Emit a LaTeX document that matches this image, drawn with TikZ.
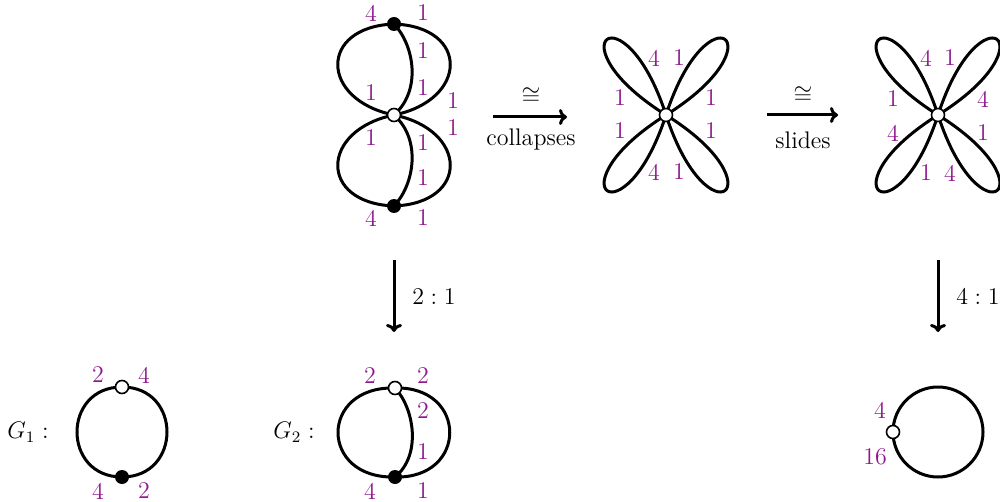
\documentclass[tikz,border=0pt]{standalone}
\usetikzlibrary{arrows.meta}
\definecolor{labc}{RGB}{142,24,142}
\begin{document}
\begin{tikzpicture}[x=0.5pt,y=-0.5pt, font=\fontsize{12}{14}\selectfont,
  edge/.style={line width=1.5pt},
  wv/.style={circle,draw,fill=white,line width=0.8pt,inner sep=0pt,minimum size=6.5pt},
  bv/.style={circle,fill=black,inner sep=0pt,minimum size=7pt},
  lab/.style={text=labc,inner sep=0pt},
  txt/.style={inner sep=0pt},
  arr/.style={line width=1.5pt,-{To[length=4pt,width=8pt]}},
  petal/.style={edge}]
\useasboundingbox (0,0) rectangle (1000,502);
\clip (0,0) rectangle (1000,502);

% ---------- figure eight ----------
\coordinate (T) at (394,24);
\coordinate (M) at (394,115);
\coordinate (B) at (394,206);
\draw[edge] (T) .. controls (318,27) and (320,100) .. (M);
\draw[edge] (T) .. controls (414,45) and (422,90) .. (M);
\draw[edge] (T) .. controls (470,27) and (468,100) .. (M);
\draw[edge] (M) .. controls (320,130) and (318,203) .. (B);
\draw[edge] (M) .. controls (422,140) and (414,185) .. (B);
\draw[edge] (M) .. controls (468,130) and (470,203) .. (B);
\node[bv] (Tv) at (T) {};
\node[wv] (Mv) at (M) {};
\node[bv] (Bv) at (B) {};
\node[lab] (e1) at (371,13) {4};
\node[lab] (e2) at (423,13) {1};
\node[lab] (e3) at (423,51) {1};
\node[lab] (e4) at (423,88) {1};
\node[lab] (e5) at (371,93) {1};
\node[lab] (e6) at (453,101) {1};
\node[lab] (e7) at (453,128) {1};
\node[lab] (e8) at (371,138) {1};
\node[lab] (e9) at (423,143) {1};
\node[lab] (e10) at (423,178) {1};
\node[lab] (e11) at (371,218) {4};
\node[lab] (e12) at (423,218) {1};

% ---------- arrow collapses ----------
\coordinate (a1s) at (493,117);
\coordinate (a1e) at (567,117);
\draw[arr] (a1s) -- (a1e);
\node[txt] (c1) at (531,96) {$\cong$};
\node[txt] (c2) at (531,140) {collapses};

% ---------- flower 1 ----------
\coordinate (F1) at (666,115);
\foreach \a in {232,308,128,52}
  \draw[petal] (F1) .. controls +(\a-20:136) and +(\a+20:136) .. (F1);
\node[wv] (F1v) at (F1) {};
\node[lab] (f1) at (654,58) {4};
\node[lab] (f2) at (679,58) {1};
\node[lab] (f3) at (620,98) {1};
\node[lab] (f4) at (711,98) {1};
\node[lab] (f5) at (620,131) {1};
\node[lab] (f6) at (711,131) {1};
\node[lab] (f7) at (654,172) {4};
\node[lab] (f8) at (679,172) {1};

% ---------- arrow slides ----------
\coordinate (a2s) at (767,115);
\coordinate (a2e) at (838,115);
\draw[arr] (a2s) -- (a2e);
\node[txt] (s1) at (803,95) {$\cong$};
\node[txt] (s2) at (803,140) {slides};

% ---------- flower 2 ----------
\coordinate (F2) at (938,115);
\foreach \a in {232,308,128,52}
  \draw[petal] (F2) .. controls +(\a-20:136) and +(\a+20:136) .. (F2);
\node[wv] (F2v) at (F2) {};
\node[lab] (g1) at (926,58) {4};
\node[lab] (g2) at (950,58) {1};
\node[lab] (g3) at (893,99) {1};
\node[lab] (g4) at (983,99) {4};
\node[lab] (g5) at (893,133) {4};
\node[lab] (g6) at (983,133) {1};
\node[lab] (g7) at (926,173) {1};
\node[lab] (g8) at (950,173) {4};

% ---------- down arrows ----------
\coordinate (d1s) at (394,260);
\coordinate (d1e) at (394,332);
\draw[arr] (d1s) -- (d1e);
\node[txt] (r1) at (434,297) {$2:1$};
\coordinate (d2s) at (938,260);
\coordinate (d2e) at (938,332);
\draw[arr] (d2s) -- (d2e);
\node[txt] (r2) at (978,297) {$4:1$};

% ---------- G1 ----------
\node[txt] (G1l) at (28,432) {$G_1:$};
\coordinate (W1) at (122,387);
\coordinate (K1) at (122,477);
\draw[edge] (W1) .. controls (62,387) and (62,477) .. (K1);
\draw[edge] (W1) .. controls (182,387) and (182,477) .. (K1);
\node[wv] (W1v) at (W1) {};
\node[bv] (K1v) at (K1) {};
\node[lab] (h1) at (98,375) {2};
\node[lab] (h2) at (144,375) {4};
\node[lab] (h3) at (98,491) {4};
\node[lab] (h4) at (144,491) {2};

% ---------- G2 ----------
\node[txt] (G2l) at (294,432) {$G_2:$};
\coordinate (W2) at (395,388);
\coordinate (K2) at (395,477);
\draw[edge] (W2) .. controls (319,386) and (319,479) .. (K2);
\draw[edge] (W2) .. controls (414,408) and (422,455) .. (K2);
\draw[edge] (W2) .. controls (468,386) and (468,479) .. (K2);
\node[wv] (W2v) at (W2) {};
\node[bv] (K2v) at (K2) {};
\node[lab] (i1) at (370,376) {2};
\node[lab] (i2) at (423,376) {2};
\node[lab] (i3) at (423,411) {2};
\node[lab] (i4) at (423,452) {1};
\node[lab] (i5) at (370,491) {4};
\node[lab] (i6) at (423,491) {1};

% ---------- single loop ----------
\coordinate (V) at (893,432);
\draw[edge] (V) arc[start angle=180,end angle=-180,radius=45];
\node[wv] (Vv) at (V) {};
\node[lab] (j1) at (880,410) {4};
\node[lab] (j2) at (875,457) {16};
\end{tikzpicture}
\end{document}
